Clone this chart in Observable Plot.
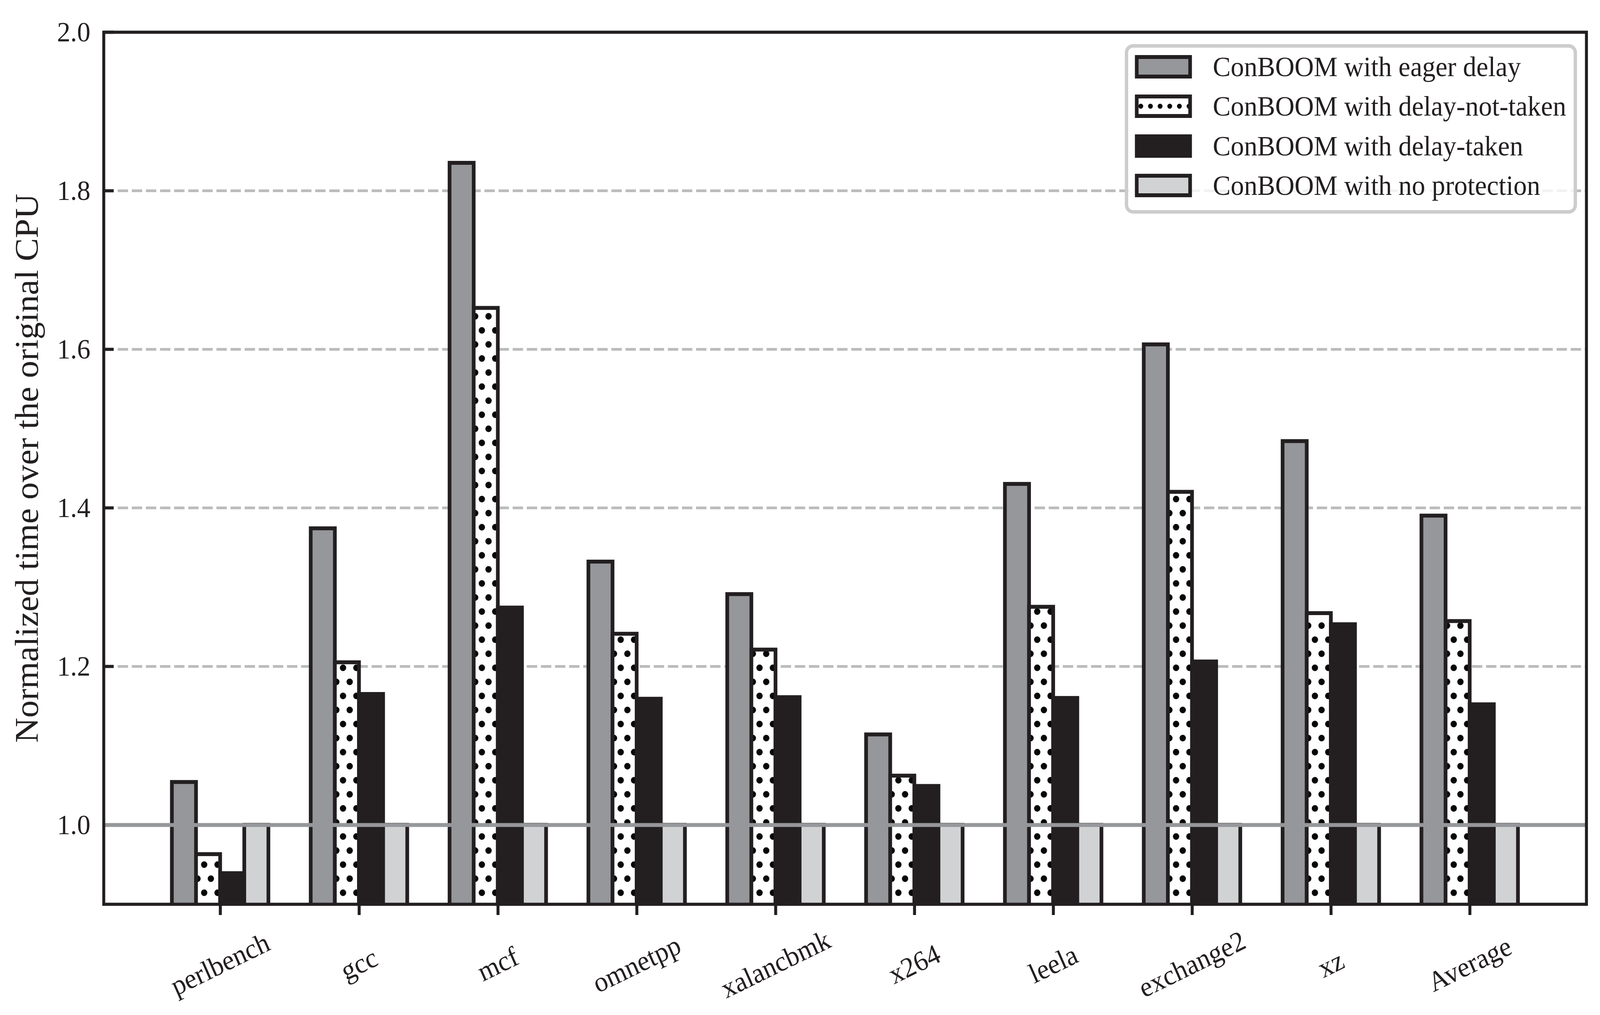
<!DOCTYPE html>
<html>
<head>
<meta charset="utf-8">
<script src="https://cdn.jsdelivr.net/npm/d3@7"></script>
<script src="https://cdn.jsdelivr.net/npm/@observablehq/plot@0.6"></script>
<style>
  html, body { margin: 0; padding: 0; background: #fff; overflow: hidden; }
  #chart { position: relative; width: 4310px; height: 2599px; overflow: hidden; transform-origin: 0 0;
           font-family: "Liberation Serif", "Times New Roman", serif; color: #231f20; }
  #chart .layer { position: absolute; left: 0; top: 0; max-width: none; }
  #legend { position: absolute; left: 3030px; top: 113px; width: 1218px; height: 434px;
            box-sizing: border-box; border: 9px solid #cccccc; border-radius: 22px;
            background: rgba(255,255,255,0.8); }
  #legend .row { position: absolute; left: 18px; height: 60px; display: flex; align-items: center; }
  #legend .row svg { display: block; flex: none; }
  #legend .row span { margin-left: 56px; font-size: 72px; line-height: 1; white-space: nowrap; }
</style>
</head>
<body>
<svg width="0" height="0" style="position:absolute">
  <defs>
    <pattern id="dots" patternUnits="userSpaceOnUse" width="36" height="72">
      <rect width="36" height="72" fill="#ffffff"></rect>
      <circle cx="9" cy="18" r="8.5" fill="#070707"></circle>
      <circle cx="27" cy="54" r="8.5" fill="#070707"></circle>
    </pattern>
    <pattern id="dotsLegend" patternUnits="userSpaceOnUse" width="26" height="60">
      <rect width="26" height="60" fill="#ffffff"></rect>
      <circle cx="16" cy="30" r="6.5" fill="#070707"></circle>
    </pattern>
  </defs>
</svg>
<div id="chart"></div>
<script>
// ---- data ----
const categories = ["perlbench", "gcc", "mcf", "omnetpp", "xalancbmk", "x264", "leela", "exchange2", "xz", "Average"];
const seriesNames = ["ConBOOM with eager delay", "ConBOOM with delay-not-taken", "ConBOOM with delay-taken", "ConBOOM with no protection"];
const eagerDelay    = [1.054, 1.374, 1.835, 1.332, 1.291, 1.114, 1.430, 1.606, 1.484, 1.390];
const delayNotTaken = [0.963, 1.205, 1.652, 1.241, 1.221, 1.062, 1.275, 1.420, 1.267, 1.257];
const delayTaken    = [0.939, 1.165, 1.274, 1.159, 1.161, 1.049, 1.160, 1.206, 1.253, 1.152];
const noProtection  = [1.0, 1.0, 1.0, 1.0, 1.0, 1.0, 1.0, 1.0, 1.0, 1.0];
const yTicks = [1.0, 1.2, 1.4, 1.6, 1.8, 2.0];
const gridLevels = [1.2, 1.4, 1.6, 1.8];
const baseline = [1.0];
const yLabel = "Normalized time over the original CPU";

// ---- styles ----
const seriesFills = ["#96979b", "url(#dots)", "#231f20", "#d1d2d4"];
const legendFills = ["#96979b", "url(#dotsLegend)", "#231f20", "#d1d2d4"];
const ink = "#231f20";

const valuesBySeries = [eagerDelay, delayNotTaken, delayTaken, noProtection];
const table = categories.flatMap((c, i) =>
  seriesNames.map((s, k) => ({category: c, series: s, value: valuesBySeries[k][i]})));

const W = 4310, H = 2599;
const common = {
  width: W, height: H,
  marginLeft: 279, marginRight: 37, marginTop: 82, marginBottom: 284,
  style: {background: "transparent", fontFamily: "'Liberation Serif', 'Times New Roman', serif",
          fontSize: "72px", color: ink, overflow: "visible", maxWidth: "none"}
};
const yScale = {domain: [0.9, 2.0]};

// layer 1: grid, y axis, y label
const base = Plot.plot({
  ...common,
  y: {...yScale, axis: null},
  marks: [
    Plot.ruleY(gridLevels, {stroke: "#bbbcbe", strokeWidth: 7, strokeDasharray: "28,10"}),
    Plot.axisY(yTicks, {tickSize: -27, tickPadding: 63, strokeWidth: 8, tickFormat: d3.format(".1f"),
                        label: null, fontSize: 72}),
    Plot.text([yLabel], {text: d => d, frameAnchor: "left", rotate: -90, dx: -206,
                         lineAnchor: "middle", textAnchor: "middle", fontSize: 89, fill: ink})
  ]
});

// layer 2: grouped bars and category axis
const bars = Plot.plot({
  ...common,
  fx: {domain: categories, paddingInner: 0, paddingOuter: 0.335, axis: null, label: null},
  x: {domain: seriesNames, paddingInner: 0, paddingOuter: 0.857, axis: null},
  y: {...yScale, axis: null},
  color: {domain: seriesNames, range: seriesFills},
  marks: [
    Plot.barY(table, {fx: "category", x: "series", y: "value", fill: "series",
                      stroke: ink, strokeWidth: 10, clip: true}),
    Plot.axisFx({anchor: "bottom", tickSize: 28, strokeWidth: 8, tickRotate: -25, textAnchor: "middle",
                 lineAnchor: "middle", tickPadding: 126, fontSize: 72, label: null})
  ]
});

// layer 3: reference line at 1.0 and frame
const over = Plot.plot({
  ...common,
  y: {...yScale, axis: null},
  marks: [
    Plot.ruleY(baseline, {stroke: "#96979b", strokeWidth: 10}),
    Plot.frame({stroke: ink, strokeWidth: 8})
  ]
});

const chart = document.getElementById("chart");
for (const el of [base, bars, over]) { el.classList.add("layer"); chart.appendChild(el); }

// legend
const legend = document.createElement("div");
legend.id = "legend";
const rowTops = [19, 120, 222, 323];
seriesNames.forEach((name, k) => {
  const row = document.createElement("div");
  row.className = "row";
  row.style.top = rowTops[k] + "px";
  row.innerHTML = `<svg width="154" height="60"><rect x="5" y="5" width="144" height="50" fill="${legendFills[k]}" stroke="${ink}" stroke-width="10"></rect></svg><span>${name}</span>`;
  legend.appendChild(row);
});
chart.appendChild(legend);

// fit the 4310x2599 drawing to the whole viewport
function fit() {
  const sx = window.innerWidth / W, sy = window.innerHeight / H;
  chart.style.transform = `scale(${sx}, ${sy})`;
}
fit();
window.addEventListener("resize", fit);
</script>
</body>
</html>
